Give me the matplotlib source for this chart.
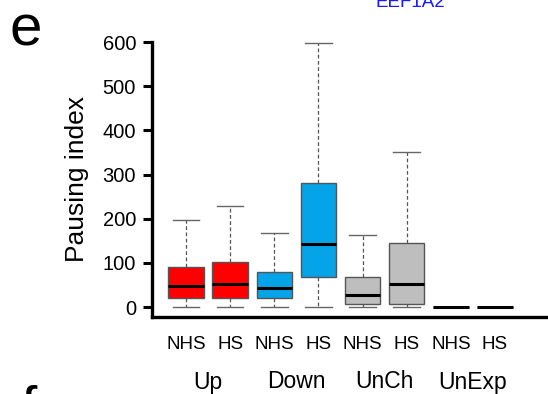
import matplotlib
matplotlib.use("Agg")
import matplotlib.pyplot as plt
import matplotlib.transforms as mtransforms

plt.rcParams['font.family'] = ['Liberation Sans', 'DejaVu Sans']

# box statistics
conds = ['NHS', 'HS', 'NHS', 'HS', 'NHS', 'HS', 'NHS', 'HS']
groups = ['Up', 'Down', 'UnCh', 'UnExp']
whislo = [0, 0, 0, 0, 0, 0, 0, 0]
q1 = [20, 20, 21, 68, 6, 7, 0, 0]
med = [47, 52, 42, 142, 28, 52, 0, 0]
q3 = [91, 103, 79, 281, 69, 144, 0, 0]
whishi = [197, 229, 167, 598, 163, 350, 0, 0]
colors = ['#ff0000', '#ff0000', '#05a3e8', '#05a3e8',
          '#bebebe', '#bebebe', '#bebebe', '#bebebe']

stats = []
for i in range(len(conds)):
    stats.append(dict(whislo=whislo[i], q1=q1[i], med=med[i], q3=q3[i],
                      whishi=whishi[i], fliers=[], label=conds[i]))

W, H = 548, 394
fig = plt.figure(figsize=(W / 100, H / 100), dpi=100)
ax = fig.add_axes([152 / W, (H - 317) / H, (W - 152) / W, (317 - 42) / H])

bp = ax.bxp(stats, positions=range(1, 9), widths=0.8, patch_artist=True,
            boxprops=dict(edgecolor='#555555', linewidth=1.0),
            whiskerprops=dict(color='#555555', linestyle=(0, (3, 2)), linewidth=0.9),
            capprops=dict(color='#666666', linewidth=1.0),
            medianprops=dict(color='black', linewidth=2.2),
            capwidths=0.6)
for patch, c in zip(bp['boxes'], colors):
    patch.set_facecolor(c)

ax.set_xlim(0.23, 9.2)
ax.set_ylim(-22.6, 600)
ax.set_yticks([0, 100, 200, 300, 400, 500, 600])
ax.spines['top'].set_visible(False)
ax.spines['right'].set_visible(False)
ax.spines['left'].set_linewidth(2.4)
ax.spines['bottom'].set_linewidth(2.4)
ax.tick_params(axis='y', length=6.5, width=2.2, pad=5, labelsize=14.5)
ax.tick_params(axis='x', length=0, pad=14, labelsize=13.5)
ax.set_ylabel('Pausing index', fontsize=19, labelpad=10)

trans = mtransforms.blended_transform_factory(ax.transData, ax.transAxes)
for k, g in enumerate(groups):
    ax.text(2 * k + 1.5, -(382 - 317) / (317 - 42), g, transform=trans,
            ha='center', va='center', fontsize=16.5)

fig.text(10 / W, 1 - 30 / H, 'e', fontsize=42, va='center', ha='left')
fig.text(20 / W, 1 - 412 / H, 'f', fontsize=42, va='center', ha='left')
fig.text(410 / W, 1 - 7 / H, 'EEF1A2', fontsize=13.5, color='#1a1aff',
         ha='center', va='baseline')

fig.savefig('out.png', dpi=100)
